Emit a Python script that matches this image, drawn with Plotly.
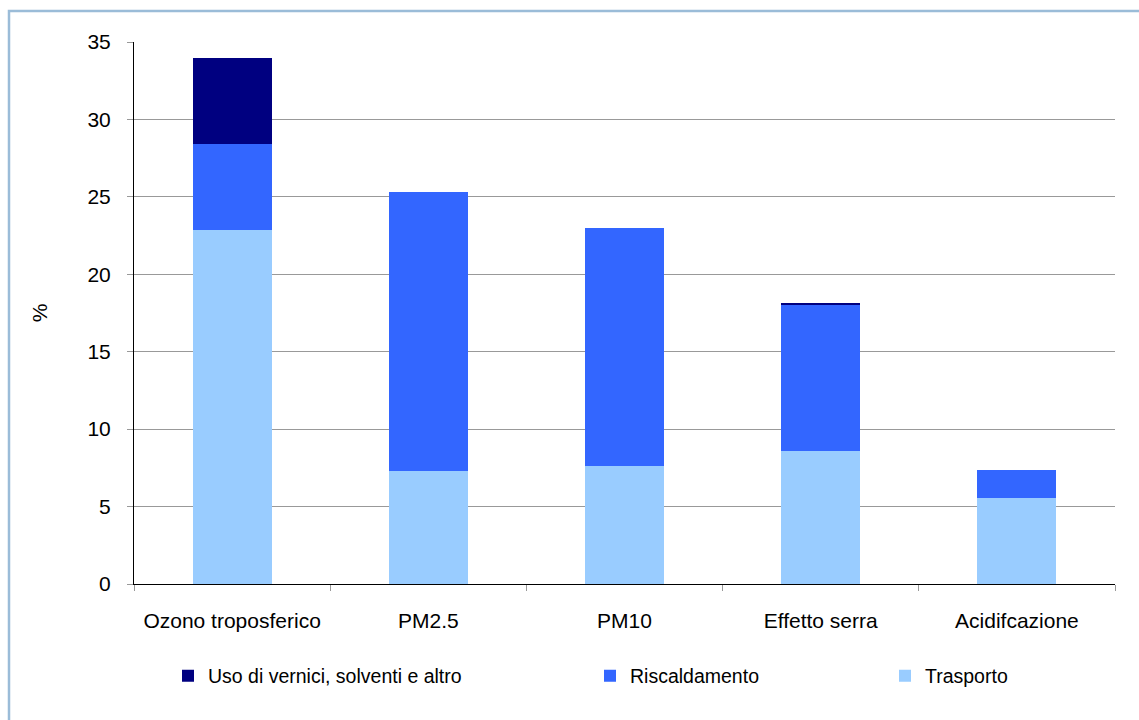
import plotly.graph_objects as go

categories = ["Ozono troposferico", "PM2.5", "PM10", "Effetto serra", "Acidifcazione"]
trasporto = [22.85, 7.3, 7.6, 8.6, 5.55]
riscaldamento = [5.55, 18.0, 15.4, 9.45, 1.8]
uso_vernici = [5.55, 0.0, 0.0, 0.12, 0.0]

series_names = ["Trasporto", "Riscaldamento", "Uso di vernici, solventi e altro"]
series_colors = ["#99CCFF", "#3366FF", "#000080"]
legend_ids = ["legend3", "legend2", "legend"]

FONT = "Liberation Sans, Arial, sans-serif"

fig = go.Figure()
for vals, name, color, lg in zip([trasporto, riscaldamento, uso_vernici],
                                 series_names, series_colors, legend_ids):
    fig.add_trace(go.Bar(x=categories, y=vals, name=name, marker_color=color,
                         marker_line_width=0, legend=lg, showlegend=True))

W, H = 1139, 720
L, R, T, B = 134, 24, 42, 136
pw, ph = W - L - R, H - T - B

def px_x(px):
    return (px - L) / pw

def px_y(py):
    return (H - B - py) / ph

legend_common = dict(orientation="h", yanchor="middle", xanchor="left",
                     font=dict(family=FONT, size=19.5, color="#000000"),
                     bgcolor="rgba(0,0,0,0)", borderwidth=0)

fig.update_layout(
    width=W, height=H,
    margin=dict(l=L, r=R, t=T, b=B),
    paper_bgcolor="white", plot_bgcolor="white",
    barmode="stack", bargap=0.597,
    showlegend=True,
    font=dict(family=FONT, size=21, color="#000000"),
    legend=dict(x=px_x(168), y=px_y(676), **legend_common),
    legend2=dict(x=px_x(590), y=px_y(676), **legend_common),
    legend3=dict(x=px_x(885), y=px_y(676), **legend_common),
    xaxis=dict(showline=True, linecolor="#000000", linewidth=1,
               ticks="outside", tickson="boundaries", ticklen=6,
               tickcolor="#999999", tickwidth=1,
               ticklabelstandoff=18,
               tickfont=dict(family=FONT, size=21, color="#000000")),
    yaxis=dict(range=[0, 35], dtick=5, showline=True, linecolor="#000000",
               linewidth=1, ticks="outside", ticklen=6, tickcolor="#999999",
               showgrid=True, gridcolor="#999999", gridwidth=1,
               zeroline=False, ticklabelstandoff=12,
               tickfont=dict(family=FONT, size=21, color="#000000"),
               title=dict(text="%", standoff=34,
                          font=dict(family=FONT, size=21, color="#000000"))),
    shapes=[dict(type="rect", xref="paper", yref="paper",
                 x0=px_x(9), x1=px_x(1160), y0=px_y(740), y1=px_y(11),
                 line=dict(color="#9BBCD8", width=2.5), fillcolor="rgba(0,0,0,0)",
                 layer="below")],
)

fig.write_html("out.html")
